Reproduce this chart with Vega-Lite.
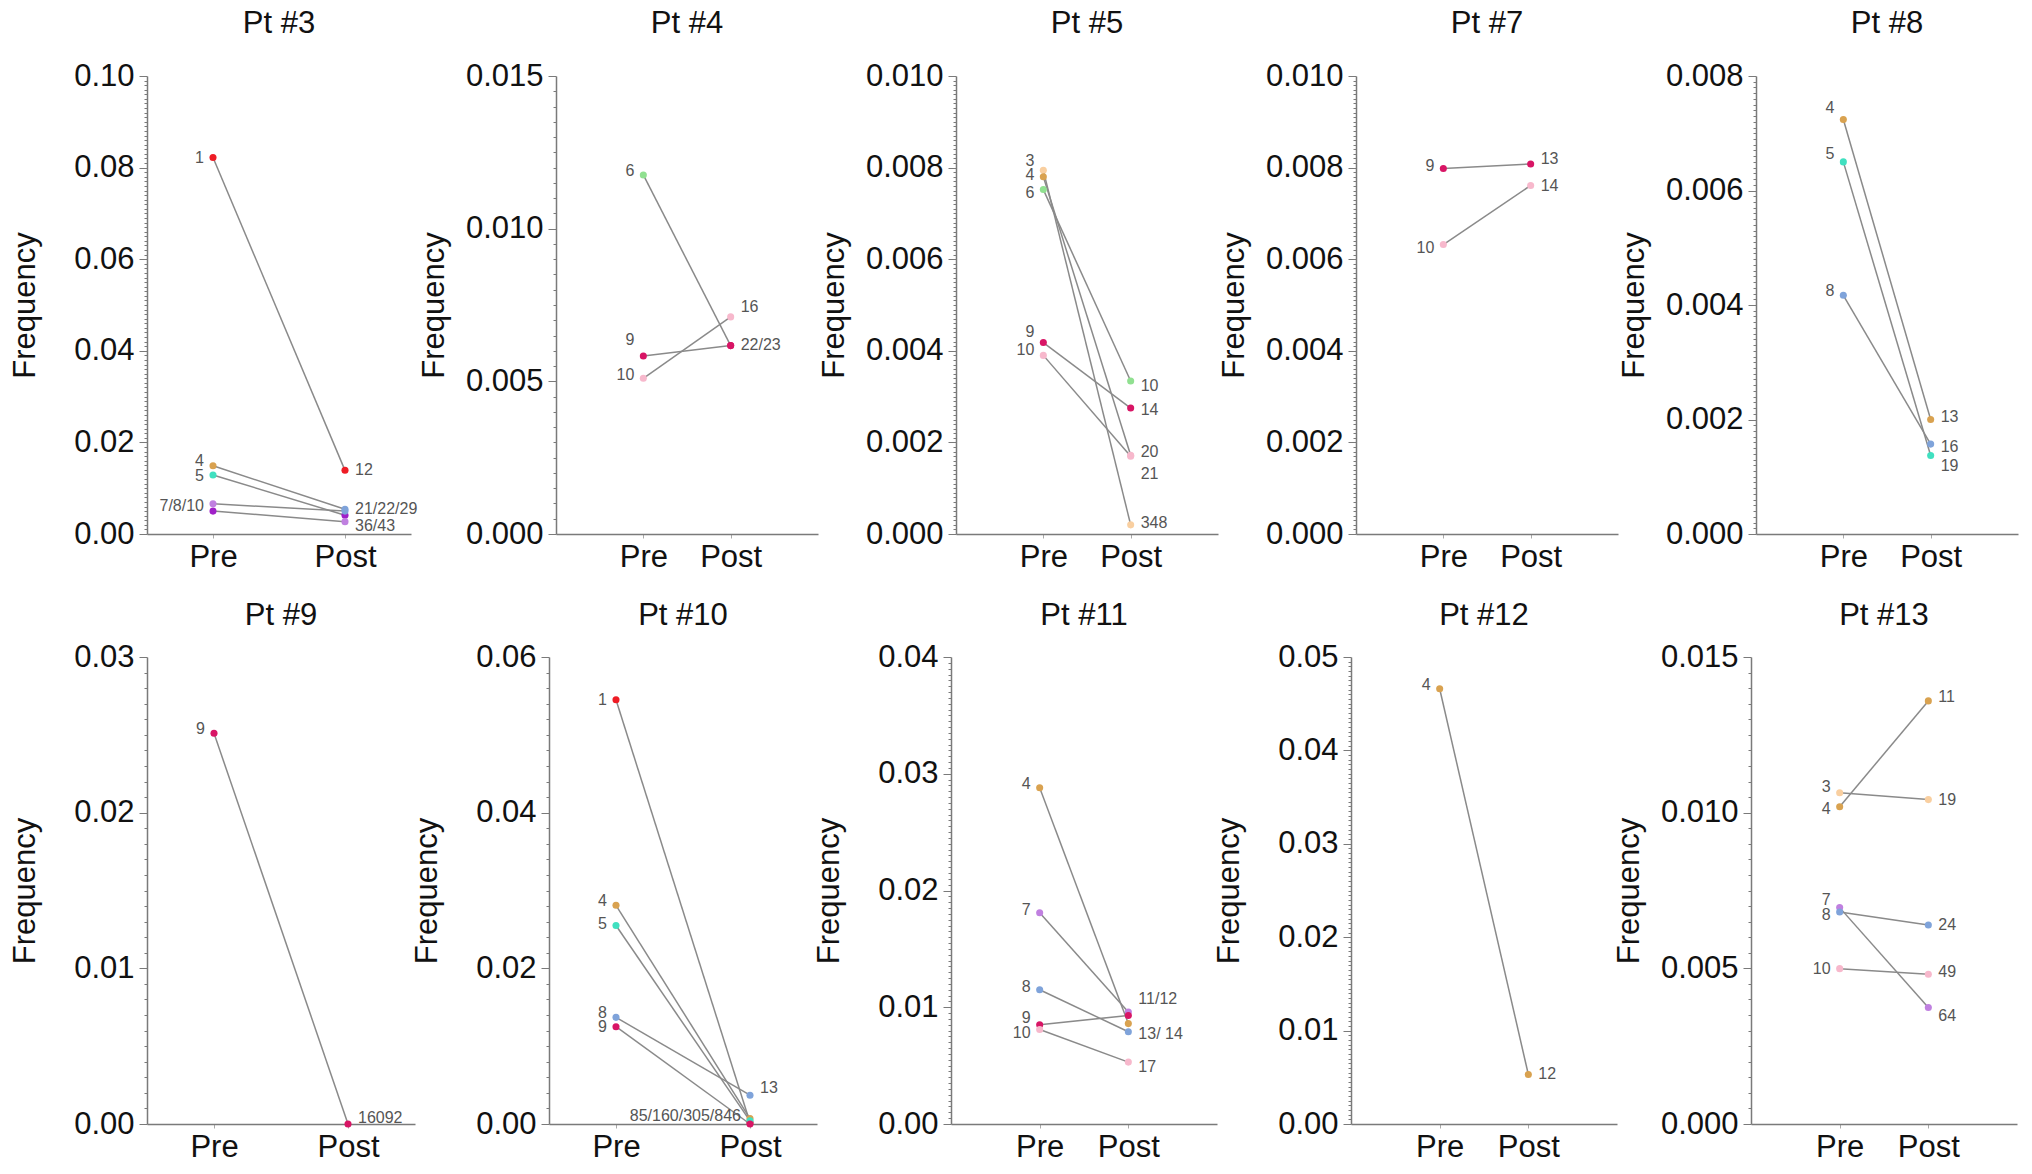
{
  "$schema": "https://vega.github.io/schema/vega-lite/v6.json",
  "padding": {"left": 9, "top": 8, "right": 2, "bottom": 4},
  "datasets": {
    "pts": [
      {"p": "Pt #3", "pair": "a", "t": "Pre", "v": 0.0822, "c": "1"},
      {"p": "Pt #3", "pair": "a", "t": "Post", "v": 0.0139, "c": "1"},
      {"p": "Pt #3", "pair": "b", "t": "Pre", "v": 0.0149, "c": "4"},
      {"p": "Pt #3", "pair": "b", "t": "Post", "v": 0.0054, "c": "8"},
      {"p": "Pt #3", "pair": "c", "t": "Pre", "v": 0.0129, "c": "5"},
      {"p": "Pt #3", "pair": "c", "t": "Post", "v": 0.0041, "c": "M"},
      {"p": "Pt #3", "pair": "d", "t": "Pre", "v": 0.0066, "c": "7"},
      {"p": "Pt #3", "pair": "d", "t": "Post", "v": 0.0050, "c": "8"},
      {"p": "Pt #3", "pair": "e", "t": "Pre", "v": 0.0050, "c": "M"},
      {"p": "Pt #3", "pair": "e", "t": "Post", "v": 0.0027, "c": "7"},
      {"p": "Pt #4", "pair": "a", "t": "Pre", "v": 0.01176, "c": "6"},
      {"p": "Pt #4", "pair": "a", "t": "Post", "v": 0.00617, "c": "9"},
      {"p": "Pt #4", "pair": "b", "t": "Pre", "v": 0.00583, "c": "9"},
      {"p": "Pt #4", "pair": "b", "t": "Post", "v": 0.00617, "c": "9"},
      {"p": "Pt #4", "pair": "c", "t": "Pre", "v": 0.00510, "c": "10"},
      {"p": "Pt #4", "pair": "c", "t": "Post", "v": 0.00711, "c": "10"},
      {"p": "Pt #5", "pair": "a", "t": "Pre", "v": 0.00794, "c": "3"},
      {"p": "Pt #5", "pair": "a", "t": "Post", "v": 0.00020, "c": "3"},
      {"p": "Pt #5", "pair": "b", "t": "Pre", "v": 0.00780, "c": "4"},
      {"p": "Pt #5", "pair": "b", "t": "Post", "v": 0.00172, "c": "10"},
      {"p": "Pt #5", "pair": "c", "t": "Pre", "v": 0.00752, "c": "6"},
      {"p": "Pt #5", "pair": "c", "t": "Post", "v": 0.00334, "c": "6"},
      {"p": "Pt #5", "pair": "d", "t": "Pre", "v": 0.00418, "c": "9"},
      {"p": "Pt #5", "pair": "d", "t": "Post", "v": 0.00275, "c": "9"},
      {"p": "Pt #5", "pair": "e", "t": "Pre", "v": 0.00390, "c": "10"},
      {"p": "Pt #5", "pair": "e", "t": "Post", "v": 0.00170, "c": "10"},
      {"p": "Pt #7", "pair": "a", "t": "Pre", "v": 0.00798, "c": "9"},
      {"p": "Pt #7", "pair": "a", "t": "Post", "v": 0.00808, "c": "9"},
      {"p": "Pt #7", "pair": "b", "t": "Pre", "v": 0.00632, "c": "10"},
      {"p": "Pt #7", "pair": "b", "t": "Post", "v": 0.00761, "c": "10"},
      {"p": "Pt #8", "pair": "a", "t": "Pre", "v": 0.00724, "c": "4"},
      {"p": "Pt #8", "pair": "a", "t": "Post", "v": 0.00200, "c": "4"},
      {"p": "Pt #8", "pair": "b", "t": "Pre", "v": 0.00650, "c": "5"},
      {"p": "Pt #8", "pair": "b", "t": "Post", "v": 0.00137, "c": "5"},
      {"p": "Pt #8", "pair": "c", "t": "Pre", "v": 0.00417, "c": "8"},
      {"p": "Pt #8", "pair": "c", "t": "Post", "v": 0.00157, "c": "8"},
      {"p": "Pt #9", "pair": "a", "t": "Pre", "v": 0.0251, "c": "9"},
      {"p": "Pt #9", "pair": "a", "t": "Post", "v": 0.0, "c": "9"},
      {"p": "Pt #10", "pair": "a", "t": "Pre", "v": 0.0545, "c": "1"},
      {"p": "Pt #10", "pair": "a", "t": "Post", "v": 0.0002, "c": "1"},
      {"p": "Pt #10", "pair": "b", "t": "Pre", "v": 0.0281, "c": "4"},
      {"p": "Pt #10", "pair": "b", "t": "Post", "v": 0.0007, "c": "4"},
      {"p": "Pt #10", "pair": "c", "t": "Pre", "v": 0.0255, "c": "5"},
      {"p": "Pt #10", "pair": "c", "t": "Post", "v": 0.0004, "c": "5"},
      {"p": "Pt #10", "pair": "d", "t": "Pre", "v": 0.0137, "c": "8"},
      {"p": "Pt #10", "pair": "d", "t": "Post", "v": 0.0037, "c": "8"},
      {"p": "Pt #10", "pair": "e", "t": "Pre", "v": 0.0125, "c": "9"},
      {"p": "Pt #10", "pair": "e", "t": "Post", "v": 0.0, "c": "9"},
      {"p": "Pt #11", "pair": "a", "t": "Pre", "v": 0.0288, "c": "4"},
      {"p": "Pt #11", "pair": "a", "t": "Post", "v": 0.0086, "c": "4"},
      {"p": "Pt #11", "pair": "b", "t": "Pre", "v": 0.0181, "c": "7"},
      {"p": "Pt #11", "pair": "b", "t": "Post", "v": 0.0096, "c": "7"},
      {"p": "Pt #11", "pair": "c", "t": "Pre", "v": 0.0115, "c": "8"},
      {"p": "Pt #11", "pair": "c", "t": "Post", "v": 0.0079, "c": "8"},
      {"p": "Pt #11", "pair": "d", "t": "Pre", "v": 0.0085, "c": "9"},
      {"p": "Pt #11", "pair": "d", "t": "Post", "v": 0.0093, "c": "9"},
      {"p": "Pt #11", "pair": "e", "t": "Pre", "v": 0.0081, "c": "10"},
      {"p": "Pt #11", "pair": "e", "t": "Post", "v": 0.0053, "c": "10"},
      {"p": "Pt #12", "pair": "a", "t": "Pre", "v": 0.0466, "c": "4"},
      {"p": "Pt #12", "pair": "a", "t": "Post", "v": 0.0053, "c": "4"},
      {"p": "Pt #13", "pair": "a", "t": "Pre", "v": 0.01064, "c": "3"},
      {"p": "Pt #13", "pair": "a", "t": "Post", "v": 0.01042, "c": "3"},
      {"p": "Pt #13", "pair": "b", "t": "Pre", "v": 0.01019, "c": "4"},
      {"p": "Pt #13", "pair": "b", "t": "Post", "v": 0.01359, "c": "4"},
      {"p": "Pt #13", "pair": "c", "t": "Pre", "v": 0.00695, "c": "7"},
      {"p": "Pt #13", "pair": "c", "t": "Post", "v": 0.00374, "c": "7"},
      {"p": "Pt #13", "pair": "d", "t": "Pre", "v": 0.00681, "c": "8"},
      {"p": "Pt #13", "pair": "d", "t": "Post", "v": 0.00639, "c": "8"},
      {"p": "Pt #13", "pair": "e", "t": "Pre", "v": 0.00499, "c": "10"},
      {"p": "Pt #13", "pair": "e", "t": "Post", "v": 0.00481, "c": "10"}
    ],
    "lab": [
      {"p": "Pt #3", "t": "Pre", "v": 0.0822, "s": "1", "side": "L"},
      {"p": "Pt #3", "t": "Pre", "v": 0.0160, "s": "4", "side": "L"},
      {"p": "Pt #3", "t": "Pre", "v": 0.0126, "s": "5", "side": "L"},
      {"p": "Pt #3", "t": "Pre", "v": 0.0061, "s": "7/8/10", "side": "L"},
      {"p": "Pt #3", "t": "Post", "v": 0.0139, "s": "12", "side": "R"},
      {"p": "Pt #3", "t": "Post", "v": 0.0054, "s": "21/22/29", "side": "R"},
      {"p": "Pt #3", "t": "Post", "v": 0.0018, "s": "36/43", "side": "R"},
      {"p": "Pt #4", "t": "Pre", "v": 0.0119, "s": "6", "side": "L"},
      {"p": "Pt #4", "t": "Pre", "v": 0.00635, "s": "9", "side": "L"},
      {"p": "Pt #4", "t": "Pre", "v": 0.0052, "s": "10", "side": "L"},
      {"p": "Pt #4", "t": "Post", "v": 0.00744, "s": "16", "side": "R"},
      {"p": "Pt #4", "t": "Post", "v": 0.0062, "s": "22/23", "side": "R"},
      {"p": "Pt #5", "t": "Pre", "v": 0.00814, "s": "3", "side": "L"},
      {"p": "Pt #5", "t": "Pre", "v": 0.00784, "s": "4", "side": "L"},
      {"p": "Pt #5", "t": "Pre", "v": 0.00744, "s": "6", "side": "L"},
      {"p": "Pt #5", "t": "Pre", "v": 0.0044, "s": "9", "side": "L"},
      {"p": "Pt #5", "t": "Pre", "v": 0.00402, "s": "10", "side": "L"},
      {"p": "Pt #5", "t": "Post", "v": 0.00323, "s": "10", "side": "R"},
      {"p": "Pt #5", "t": "Post", "v": 0.00271, "s": "14", "side": "R"},
      {"p": "Pt #5", "t": "Post", "v": 0.00179, "s": "20", "side": "R"},
      {"p": "Pt #5", "t": "Post", "v": 0.00132, "s": "21", "side": "R"},
      {"p": "Pt #5", "t": "Post", "v": 0.00023, "s": "348", "side": "R"},
      {"p": "Pt #7", "t": "Pre", "v": 0.00803, "s": "9", "side": "L"},
      {"p": "Pt #7", "t": "Pre", "v": 0.00625, "s": "10", "side": "L"},
      {"p": "Pt #7", "t": "Post", "v": 0.00819, "s": "13", "side": "R"},
      {"p": "Pt #7", "t": "Post", "v": 0.0076, "s": "14", "side": "R"},
      {"p": "Pt #8", "t": "Pre", "v": 0.00744, "s": "4", "side": "L"},
      {"p": "Pt #8", "t": "Pre", "v": 0.00664, "s": "5", "side": "L"},
      {"p": "Pt #8", "t": "Pre", "v": 0.00424, "s": "8", "side": "L"},
      {"p": "Pt #8", "t": "Post", "v": 0.00204, "s": "13", "side": "R"},
      {"p": "Pt #8", "t": "Post", "v": 0.00152, "s": "16", "side": "R"},
      {"p": "Pt #8", "t": "Post", "v": 0.00118, "s": "19", "side": "R"},
      {"p": "Pt #9", "t": "Pre", "v": 0.0254, "s": "9", "side": "L"},
      {"p": "Pt #9", "t": "Post", "v": 0.00036, "s": "16092", "side": "R"},
      {"p": "Pt #10", "t": "Pre", "v": 0.0545, "s": "1", "side": "L"},
      {"p": "Pt #10", "t": "Pre", "v": 0.0286, "s": "4", "side": "L"},
      {"p": "Pt #10", "t": "Pre", "v": 0.0257, "s": "5", "side": "L"},
      {"p": "Pt #10", "t": "Pre", "v": 0.0143, "s": "8", "side": "L"},
      {"p": "Pt #10", "t": "Pre", "v": 0.0125, "s": "9", "side": "L"},
      {"p": "Pt #10", "t": "Post", "v": 0.0046, "s": "13", "side": "R"},
      {"p": "Pt #10", "t": "Post", "v": 0.0010, "s": "85/160/305/846", "side": "L"},
      {"p": "Pt #11", "t": "Pre", "v": 0.0291, "s": "4", "side": "L"},
      {"p": "Pt #11", "t": "Pre", "v": 0.0183, "s": "7", "side": "L"},
      {"p": "Pt #11", "t": "Pre", "v": 0.0117, "s": "8", "side": "L"},
      {"p": "Pt #11", "t": "Pre", "v": 0.0091, "s": "9", "side": "L"},
      {"p": "Pt #11", "t": "Pre", "v": 0.0078, "s": "10", "side": "L"},
      {"p": "Pt #11", "t": "Post", "v": 0.0107, "s": "11/12", "side": "R"},
      {"p": "Pt #11", "t": "Post", "v": 0.0077, "s": "13/ 14", "side": "R"},
      {"p": "Pt #11", "t": "Post", "v": 0.0049, "s": "17", "side": "R"},
      {"p": "Pt #12", "t": "Pre", "v": 0.0470, "s": "4", "side": "L"},
      {"p": "Pt #12", "t": "Post", "v": 0.0053, "s": "12", "side": "R"},
      {"p": "Pt #13", "t": "Pre", "v": 0.01081, "s": "3", "side": "L"},
      {"p": "Pt #13", "t": "Pre", "v": 0.01013, "s": "4", "side": "L"},
      {"p": "Pt #13", "t": "Pre", "v": 0.00718, "s": "7", "side": "L"},
      {"p": "Pt #13", "t": "Pre", "v": 0.00670, "s": "8", "side": "L"},
      {"p": "Pt #13", "t": "Pre", "v": 0.00499, "s": "10", "side": "L"},
      {"p": "Pt #13", "t": "Post", "v": 0.0137, "s": "11", "side": "R"},
      {"p": "Pt #13", "t": "Post", "v": 0.01042, "s": "19", "side": "R"},
      {"p": "Pt #13", "t": "Post", "v": 0.00638, "s": "24", "side": "R"},
      {"p": "Pt #13", "t": "Post", "v": 0.00487, "s": "49", "side": "R"},
      {"p": "Pt #13", "t": "Post", "v": 0.00347, "s": "64", "side": "R"}
    ]
  },
  "vconcat": [
    {
      "hconcat": [
        {
          "title": {"text": "Pt #3", "offset": 20}, "width": 264, "height": 458,
          "encoding": {
            "x": {"field": "t", "type": "ordinal", "scale": {"type": "point", "domain": ["Pre", "Post"], "padding": 0.5}},
            "y": {"field": "v", "type": "quantitative", "scale": {"domain": [0, 0.1], "nice": false},
              "axis": {"title": "Frequency", "tickCount": 100,
                "labelExpr": "abs(datum.value/0.02-round(datum.value/0.02))<0.01 ? format(datum.value,'.2f') : ''",
                "tickSize": {"condition": {"test": "abs(datum.value/0.02-round(datum.value/0.02))<0.01", "value": 8}, "value": 3}}}
          },
          "layer": [
            {"data": {"name": "pts"}, "transform": [{"filter": "datum.p === 'Pt #3'"}], "mark": {"type": "line", "color": "#8a8a8a", "strokeWidth": 1.5}, "encoding": {"detail": {"field": "pair"}}},
            {"data": {"name": "pts"}, "transform": [{"filter": "datum.p === 'Pt #3'"}], "mark": {"type": "circle", "size": 50, "opacity": 1}, "encoding": {"color": {"field": "c", "type": "nominal", "legend": null, "scale": {"domain": ["1", "3", "4", "5", "6", "7", "8", "9", "10", "M"], "range": ["#ee1c25", "#f9cfa0", "#d9a250", "#40e0c0", "#90e090", "#c080e0", "#7fa3da", "#d81565", "#f7b8cc", "#a020c8"]}}}},
            {"data": {"name": "lab"}, "transform": [{"filter": "datum.p === 'Pt #3' && datum.side === 'R'"}], "mark": {"type": "text", "align": "left", "dx": 10}, "encoding": {"text": {"field": "s"}}},
            {"data": {"name": "lab"}, "transform": [{"filter": "datum.p === 'Pt #3' && datum.side === 'L'"}], "mark": {"type": "text", "align": "right", "dx": -9}, "encoding": {"text": {"field": "s"}}}
          ]
        },
        {
          "title": {"text": "Pt #4", "offset": 20}, "width": 262, "height": 458,
          "encoding": {
            "x": {"field": "t", "type": "ordinal", "scale": {"type": "point", "domain": ["Pre", "Post"], "padding": 1}},
            "y": {"field": "v", "type": "quantitative", "scale": {"domain": [0, 0.015], "nice": false},
              "axis": {"title": "Frequency", "tickCount": 30,
                "labelExpr": "abs(datum.value/0.005-round(datum.value/0.005))<0.01 ? format(datum.value,'.3f') : ''",
                "tickSize": {"condition": {"test": "abs(datum.value/0.005-round(datum.value/0.005))<0.01", "value": 8}, "value": 3}}}
          },
          "layer": [
            {"data": {"name": "pts"}, "transform": [{"filter": "datum.p === 'Pt #4'"}], "mark": {"type": "line", "color": "#8a8a8a", "strokeWidth": 1.5}, "encoding": {"detail": {"field": "pair"}}},
            {"data": {"name": "pts"}, "transform": [{"filter": "datum.p === 'Pt #4'"}], "mark": {"type": "circle", "size": 50, "opacity": 1}, "encoding": {"color": {"field": "c", "type": "nominal", "legend": null, "scale": {"domain": ["1", "3", "4", "5", "6", "7", "8", "9", "10", "M"], "range": ["#ee1c25", "#f9cfa0", "#d9a250", "#40e0c0", "#90e090", "#c080e0", "#7fa3da", "#d81565", "#f7b8cc", "#a020c8"]}}}},
            {"data": {"name": "lab"}, "transform": [{"filter": "datum.p === 'Pt #4' && datum.side === 'R'"}], "mark": {"type": "text", "align": "left", "dx": 10}, "encoding": {"text": {"field": "s"}}},
            {"data": {"name": "lab"}, "transform": [{"filter": "datum.p === 'Pt #4' && datum.side === 'L'"}], "mark": {"type": "text", "align": "right", "dx": -9}, "encoding": {"text": {"field": "s"}}}
          ]
        },
        {
          "title": {"text": "Pt #5", "offset": 20}, "width": 262, "height": 458,
          "encoding": {
            "x": {"field": "t", "type": "ordinal", "scale": {"type": "point", "domain": ["Pre", "Post"], "padding": 1}},
            "y": {"field": "v", "type": "quantitative", "scale": {"domain": [0, 0.01], "nice": false},
              "axis": {"title": "Frequency", "tickCount": 100,
                "labelExpr": "abs(datum.value/0.002-round(datum.value/0.002))<0.01 ? format(datum.value,'.3f') : ''",
                "tickSize": {"condition": {"test": "abs(datum.value/0.002-round(datum.value/0.002))<0.01", "value": 8}, "value": 3}}}
          },
          "layer": [
            {"data": {"name": "pts"}, "transform": [{"filter": "datum.p === 'Pt #5'"}], "mark": {"type": "line", "color": "#8a8a8a", "strokeWidth": 1.5}, "encoding": {"detail": {"field": "pair"}}},
            {"data": {"name": "pts"}, "transform": [{"filter": "datum.p === 'Pt #5'"}], "mark": {"type": "circle", "size": 50, "opacity": 1}, "encoding": {"color": {"field": "c", "type": "nominal", "legend": null, "scale": {"domain": ["1", "3", "4", "5", "6", "7", "8", "9", "10", "M"], "range": ["#ee1c25", "#f9cfa0", "#d9a250", "#40e0c0", "#90e090", "#c080e0", "#7fa3da", "#d81565", "#f7b8cc", "#a020c8"]}}}},
            {"data": {"name": "lab"}, "transform": [{"filter": "datum.p === 'Pt #5' && datum.side === 'R'"}], "mark": {"type": "text", "align": "left", "dx": 10}, "encoding": {"text": {"field": "s"}}},
            {"data": {"name": "lab"}, "transform": [{"filter": "datum.p === 'Pt #5' && datum.side === 'L'"}], "mark": {"type": "text", "align": "right", "dx": -9}, "encoding": {"text": {"field": "s"}}}
          ]
        },
        {
          "title": {"text": "Pt #7", "offset": 20}, "width": 262, "height": 458,
          "encoding": {
            "x": {"field": "t", "type": "ordinal", "scale": {"type": "point", "domain": ["Pre", "Post"], "padding": 1}},
            "y": {"field": "v", "type": "quantitative", "scale": {"domain": [0, 0.01], "nice": false},
              "axis": {"title": "Frequency", "tickCount": 100,
                "labelExpr": "abs(datum.value/0.002-round(datum.value/0.002))<0.01 ? format(datum.value,'.3f') : ''",
                "tickSize": {"condition": {"test": "abs(datum.value/0.002-round(datum.value/0.002))<0.01", "value": 8}, "value": 3}}}
          },
          "layer": [
            {"data": {"name": "pts"}, "transform": [{"filter": "datum.p === 'Pt #7'"}], "mark": {"type": "line", "color": "#8a8a8a", "strokeWidth": 1.5}, "encoding": {"detail": {"field": "pair"}}},
            {"data": {"name": "pts"}, "transform": [{"filter": "datum.p === 'Pt #7'"}], "mark": {"type": "circle", "size": 50, "opacity": 1}, "encoding": {"color": {"field": "c", "type": "nominal", "legend": null, "scale": {"domain": ["1", "3", "4", "5", "6", "7", "8", "9", "10", "M"], "range": ["#ee1c25", "#f9cfa0", "#d9a250", "#40e0c0", "#90e090", "#c080e0", "#7fa3da", "#d81565", "#f7b8cc", "#a020c8"]}}}},
            {"data": {"name": "lab"}, "transform": [{"filter": "datum.p === 'Pt #7' && datum.side === 'R'"}], "mark": {"type": "text", "align": "left", "dx": 10}, "encoding": {"text": {"field": "s"}}},
            {"data": {"name": "lab"}, "transform": [{"filter": "datum.p === 'Pt #7' && datum.side === 'L'"}], "mark": {"type": "text", "align": "right", "dx": -9}, "encoding": {"text": {"field": "s"}}}
          ]
        },
        {
          "title": {"text": "Pt #8", "offset": 20}, "width": 262, "height": 458,
          "encoding": {
            "x": {"field": "t", "type": "ordinal", "scale": {"type": "point", "domain": ["Pre", "Post"], "padding": 1}},
            "y": {"field": "v", "type": "quantitative", "scale": {"domain": [0, 0.008], "nice": false},
              "axis": {"title": "Frequency", "tickCount": 80,
                "labelExpr": "abs(datum.value/0.002-round(datum.value/0.002))<0.01 ? format(datum.value,'.3f') : ''",
                "tickSize": {"condition": {"test": "abs(datum.value/0.002-round(datum.value/0.002))<0.01", "value": 8}, "value": 3}}}
          },
          "layer": [
            {"data": {"name": "pts"}, "transform": [{"filter": "datum.p === 'Pt #8'"}], "mark": {"type": "line", "color": "#8a8a8a", "strokeWidth": 1.5}, "encoding": {"detail": {"field": "pair"}}},
            {"data": {"name": "pts"}, "transform": [{"filter": "datum.p === 'Pt #8'"}], "mark": {"type": "circle", "size": 50, "opacity": 1}, "encoding": {"color": {"field": "c", "type": "nominal", "legend": null, "scale": {"domain": ["1", "3", "4", "5", "6", "7", "8", "9", "10", "M"], "range": ["#ee1c25", "#f9cfa0", "#d9a250", "#40e0c0", "#90e090", "#c080e0", "#7fa3da", "#d81565", "#f7b8cc", "#a020c8"]}}}},
            {"data": {"name": "lab"}, "transform": [{"filter": "datum.p === 'Pt #8' && datum.side === 'R'"}], "mark": {"type": "text", "align": "left", "dx": 10}, "encoding": {"text": {"field": "s"}}},
            {"data": {"name": "lab"}, "transform": [{"filter": "datum.p === 'Pt #8' && datum.side === 'L'"}], "mark": {"type": "text", "align": "right", "dx": -9}, "encoding": {"text": {"field": "s"}}}
          ]
        }
      ],
      "spacing": 0,
      "resolve": {"scale": {"x": "independent", "y": "independent"}}
    },
    {
      "hconcat": [
        {
          "title": {"text": "Pt #9", "offset": 9}, "width": 268, "height": 467,
          "encoding": {
            "x": {"field": "t", "type": "ordinal", "scale": {"type": "point", "domain": ["Pre", "Post"], "padding": 0.5}},
            "y": {"field": "v", "type": "quantitative", "scale": {"domain": [0, 0.03], "nice": false},
              "axis": {"title": "Frequency", "tickCount": 30,
                "labelExpr": "abs(datum.value/0.01-round(datum.value/0.01))<0.01 ? format(datum.value,'.2f') : ''",
                "tickSize": {"condition": {"test": "abs(datum.value/0.01-round(datum.value/0.01))<0.01", "value": 8}, "value": 3}}}
          },
          "layer": [
            {"data": {"name": "pts"}, "transform": [{"filter": "datum.p === 'Pt #9'"}], "mark": {"type": "line", "color": "#8a8a8a", "strokeWidth": 1.5}, "encoding": {"detail": {"field": "pair"}}},
            {"data": {"name": "pts"}, "transform": [{"filter": "datum.p === 'Pt #9'"}], "mark": {"type": "circle", "size": 50, "opacity": 1}, "encoding": {"color": {"field": "c", "type": "nominal", "legend": null, "scale": {"domain": ["1", "3", "4", "5", "6", "7", "8", "9", "10", "M"], "range": ["#ee1c25", "#f9cfa0", "#d9a250", "#40e0c0", "#90e090", "#c080e0", "#7fa3da", "#d81565", "#f7b8cc", "#a020c8"]}}}},
            {"data": {"name": "lab"}, "transform": [{"filter": "datum.p === 'Pt #9' && datum.side === 'R'"}], "mark": {"type": "text", "align": "left", "dx": 10}, "encoding": {"text": {"field": "s"}}},
            {"data": {"name": "lab"}, "transform": [{"filter": "datum.p === 'Pt #9' && datum.side === 'L'"}], "mark": {"type": "text", "align": "right", "dx": -9}, "encoding": {"text": {"field": "s"}}}
          ]
        },
        {
          "title": {"text": "Pt #10", "offset": 9}, "width": 268, "height": 467,
          "encoding": {
            "x": {"field": "t", "type": "ordinal", "scale": {"type": "point", "domain": ["Pre", "Post"], "padding": 0.5}},
            "y": {"field": "v", "type": "quantitative", "scale": {"domain": [0, 0.06], "nice": false},
              "axis": {"title": "Frequency", "tickCount": 30,
                "labelExpr": "abs(datum.value/0.02-round(datum.value/0.02))<0.01 ? format(datum.value,'.2f') : ''",
                "tickSize": {"condition": {"test": "abs(datum.value/0.02-round(datum.value/0.02))<0.01", "value": 8}, "value": 3}}}
          },
          "layer": [
            {"data": {"name": "pts"}, "transform": [{"filter": "datum.p === 'Pt #10'"}], "mark": {"type": "line", "color": "#8a8a8a", "strokeWidth": 1.5}, "encoding": {"detail": {"field": "pair"}}},
            {"data": {"name": "pts"}, "transform": [{"filter": "datum.p === 'Pt #10'"}], "mark": {"type": "circle", "size": 50, "opacity": 1}, "encoding": {"color": {"field": "c", "type": "nominal", "legend": null, "scale": {"domain": ["1", "3", "4", "5", "6", "7", "8", "9", "10", "M"], "range": ["#ee1c25", "#f9cfa0", "#d9a250", "#40e0c0", "#90e090", "#c080e0", "#7fa3da", "#d81565", "#f7b8cc", "#a020c8"]}}}},
            {"data": {"name": "lab"}, "transform": [{"filter": "datum.p === 'Pt #10' && datum.side === 'R'"}], "mark": {"type": "text", "align": "left", "dx": 10}, "encoding": {"text": {"field": "s"}}},
            {"data": {"name": "lab"}, "transform": [{"filter": "datum.p === 'Pt #10' && datum.side === 'L'"}], "mark": {"type": "text", "align": "right", "dx": -9}, "encoding": {"text": {"field": "s"}}}
          ]
        },
        {
          "title": {"text": "Pt #11", "offset": 9}, "width": 266, "height": 467,
          "encoding": {
            "x": {"field": "t", "type": "ordinal", "scale": {"type": "point", "domain": ["Pre", "Post"], "padding": 1}},
            "y": {"field": "v", "type": "quantitative", "scale": {"domain": [0, 0.04], "nice": false},
              "axis": {"title": "Frequency", "tickCount": 80,
                "labelExpr": "abs(datum.value/0.01-round(datum.value/0.01))<0.01 ? format(datum.value,'.2f') : ''",
                "tickSize": {"condition": {"test": "abs(datum.value/0.01-round(datum.value/0.01))<0.01", "value": 8}, "value": 3}}}
          },
          "layer": [
            {"data": {"name": "pts"}, "transform": [{"filter": "datum.p === 'Pt #11'"}], "mark": {"type": "line", "color": "#8a8a8a", "strokeWidth": 1.5}, "encoding": {"detail": {"field": "pair"}}},
            {"data": {"name": "pts"}, "transform": [{"filter": "datum.p === 'Pt #11'"}], "mark": {"type": "circle", "size": 50, "opacity": 1}, "encoding": {"color": {"field": "c", "type": "nominal", "legend": null, "scale": {"domain": ["1", "3", "4", "5", "6", "7", "8", "9", "10", "M"], "range": ["#ee1c25", "#f9cfa0", "#d9a250", "#40e0c0", "#90e090", "#c080e0", "#7fa3da", "#d81565", "#f7b8cc", "#a020c8"]}}}},
            {"data": {"name": "lab"}, "transform": [{"filter": "datum.p === 'Pt #11' && datum.side === 'R'"}], "mark": {"type": "text", "align": "left", "dx": 10}, "encoding": {"text": {"field": "s"}}},
            {"data": {"name": "lab"}, "transform": [{"filter": "datum.p === 'Pt #11' && datum.side === 'L'"}], "mark": {"type": "text", "align": "right", "dx": -9}, "encoding": {"text": {"field": "s"}}}
          ]
        },
        {
          "title": {"text": "Pt #12", "offset": 9}, "width": 266, "height": 467,
          "encoding": {
            "x": {"field": "t", "type": "ordinal", "scale": {"type": "point", "domain": ["Pre", "Post"], "padding": 1}},
            "y": {"field": "v", "type": "quantitative", "scale": {"domain": [0, 0.05], "nice": false},
              "axis": {"title": "Frequency", "tickCount": 100,
                "labelExpr": "abs(datum.value/0.01-round(datum.value/0.01))<0.01 ? format(datum.value,'.2f') : ''",
                "tickSize": {"condition": {"test": "abs(datum.value/0.01-round(datum.value/0.01))<0.01", "value": 8}, "value": 3}}}
          },
          "layer": [
            {"data": {"name": "pts"}, "transform": [{"filter": "datum.p === 'Pt #12'"}], "mark": {"type": "line", "color": "#8a8a8a", "strokeWidth": 1.5}, "encoding": {"detail": {"field": "pair"}}},
            {"data": {"name": "pts"}, "transform": [{"filter": "datum.p === 'Pt #12'"}], "mark": {"type": "circle", "size": 50, "opacity": 1}, "encoding": {"color": {"field": "c", "type": "nominal", "legend": null, "scale": {"domain": ["1", "3", "4", "5", "6", "7", "8", "9", "10", "M"], "range": ["#ee1c25", "#f9cfa0", "#d9a250", "#40e0c0", "#90e090", "#c080e0", "#7fa3da", "#d81565", "#f7b8cc", "#a020c8"]}}}},
            {"data": {"name": "lab"}, "transform": [{"filter": "datum.p === 'Pt #12' && datum.side === 'R'"}], "mark": {"type": "text", "align": "left", "dx": 10}, "encoding": {"text": {"field": "s"}}},
            {"data": {"name": "lab"}, "transform": [{"filter": "datum.p === 'Pt #12' && datum.side === 'L'"}], "mark": {"type": "text", "align": "right", "dx": -9}, "encoding": {"text": {"field": "s"}}}
          ]
        },
        {
          "title": {"text": "Pt #13", "offset": 9}, "width": 266, "height": 467,
          "encoding": {
            "x": {"field": "t", "type": "ordinal", "scale": {"type": "point", "domain": ["Pre", "Post"], "padding": 1}},
            "y": {"field": "v", "type": "quantitative", "scale": {"domain": [0, 0.015], "nice": false},
              "axis": {"title": "Frequency", "tickCount": 30,
                "labelExpr": "abs(datum.value/0.005-round(datum.value/0.005))<0.01 ? format(datum.value,'.3f') : ''",
                "tickSize": {"condition": {"test": "abs(datum.value/0.005-round(datum.value/0.005))<0.01", "value": 8}, "value": 3}}}
          },
          "layer": [
            {"data": {"name": "pts"}, "transform": [{"filter": "datum.p === 'Pt #13'"}], "mark": {"type": "line", "color": "#8a8a8a", "strokeWidth": 1.5}, "encoding": {"detail": {"field": "pair"}}},
            {"data": {"name": "pts"}, "transform": [{"filter": "datum.p === 'Pt #13'"}], "mark": {"type": "circle", "size": 50, "opacity": 1}, "encoding": {"color": {"field": "c", "type": "nominal", "legend": null, "scale": {"domain": ["1", "3", "4", "5", "6", "7", "8", "9", "10", "M"], "range": ["#ee1c25", "#f9cfa0", "#d9a250", "#40e0c0", "#90e090", "#c080e0", "#7fa3da", "#d81565", "#f7b8cc", "#a020c8"]}}}},
            {"data": {"name": "lab"}, "transform": [{"filter": "datum.p === 'Pt #13' && datum.side === 'R'"}], "mark": {"type": "text", "align": "left", "dx": 10}, "encoding": {"text": {"field": "s"}}},
            {"data": {"name": "lab"}, "transform": [{"filter": "datum.p === 'Pt #13' && datum.side === 'L'"}], "mark": {"type": "text", "align": "right", "dx": -9}, "encoding": {"text": {"field": "s"}}}
          ]
        }
      ],
      "spacing": -4,
      "resolve": {"scale": {"x": "independent", "y": "independent"}}
    }
  ],
  "spacing": 28,
  "resolve": {"scale": {"x": "independent", "y": "independent"}},
  "config": {
    "font": "Liberation Sans",
    "view": {"stroke": null},
    "axis": {"domainColor": "#7a7a7a", "domainWidth": 1.5, "tickColor": "#7a7a7a", "tickWidth": 1, "labelColor": "#111111", "labelFontSize": 31, "titleFontSize": 31, "titleFontWeight": "normal", "titleColor": "#111111", "grid": false, "labelFont": "Liberation Sans", "titleFont": "Liberation Sans"},
    "axisY": {"minExtent": 90, "maxExtent": 90, "titlePadding": 16, "labelPadding": 5, "labelOverlap": false, "labelFlush": false},
    "axisX": {"labelAngle": 0, "tickSize": 4, "labelPadding": 4, "title": null, "tickColor": "#aaaaaa"},
    "title": {"fontSize": 31, "fontWeight": "normal", "color": "#111111", "anchor": "middle", "font": "Liberation Sans"},
    "text": {"fontSize": 16, "color": "#555555", "baseline": "middle", "font": "Liberation Sans"}
  }
}
